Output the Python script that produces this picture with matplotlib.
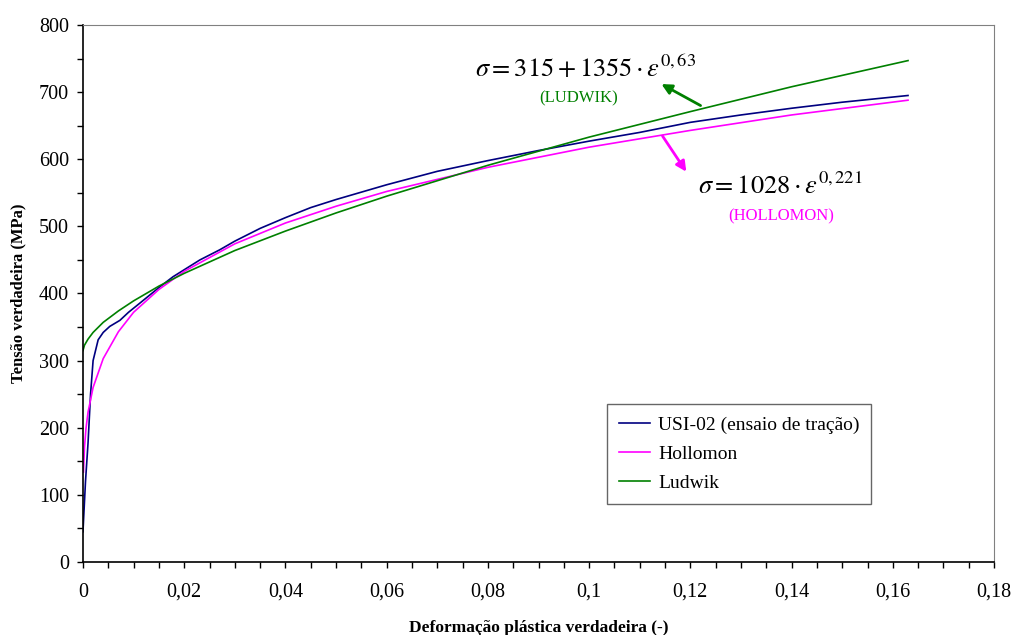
#!/usr/bin/env python3

import matplotlib
matplotlib.use('Agg')
import matplotlib.pyplot as plt
from matplotlib.ticker import MultipleLocator

plt.rcParams['font.family'] = ['Liberation Serif', 'DejaVu Serif']
plt.rcParams['mathtext.fontset'] = 'stix'

# USI-02 tensile test
eps_test = [0, 0.0005, 0.001, 0.0015, 0.002, 0.003, 0.004, 0.0053, 0.0073,
            0.009, 0.0113, 0.0152, 0.0178, 0.0231, 0.027, 0.03, 0.035, 0.04,
            0.045, 0.05, 0.06, 0.07, 0.08, 0.09, 0.10, 0.11, 0.12, 0.13,
            0.14, 0.15, 0.163]
sig_test = [45, 120, 177, 250, 300, 331, 342, 351, 360,
            372, 386, 410, 425, 450, 465, 478, 497, 513,
            528, 540, 562, 582, 598, 613, 627, 640, 655, 666,
            676, 685, 695]

# fitted curves
eps_hol = [0.0001, 0.0003, 0.0006, 0.001, 0.002, 0.004, 0.007, 0.01, 0.015,
           0.02, 0.03, 0.04, 0.05, 0.06, 0.08, 0.10, 0.12, 0.14, 0.163]
sig_hol = [134, 171, 199, 223, 260, 303, 343, 372, 406,
           433, 474, 505, 530, 552, 588, 618, 643, 666, 688]

eps_lud = [0, 0.0003, 0.001, 0.002, 0.004, 0.007, 0.01, 0.015, 0.02,
           0.03, 0.04, 0.05, 0.06, 0.08, 0.10, 0.12, 0.14, 0.163]
sig_lud = [315, 323, 332, 342, 357, 374, 389, 411, 430,
           464, 493, 520, 545, 591, 633, 671, 708, 747]

xticks = [0, 0.02, 0.04, 0.06, 0.08, 0.10, 0.12, 0.14, 0.16, 0.18]
xlabels = ['0', '0,02', '0,04', '0,06', '0,08', '0,1', '0,12', '0,14', '0,16', '0,18']

fig = plt.figure(figsize=(10.13, 6.35), dpi=100)
ax = fig.add_axes([0.0819, 0.115, 0.8994, 0.8456])

ax.plot(eps_test, sig_test, color='#000080', lw=1.2, label='USI-02 (ensaio de tração)')
ax.plot(eps_hol, sig_hol, color='#ff00ff', lw=1.2, label='Hollomon')
ax.plot(eps_lud, sig_lud, color='#008000', lw=1.2, label='Ludwik')

ax.set_xlim(0, 0.18)
ax.set_ylim(0, 800)
ax.set_xticks(xticks)
ax.set_xticklabels(xlabels)
ax.xaxis.set_minor_locator(MultipleLocator(0.005))
ax.yaxis.set_major_locator(MultipleLocator(100))
ax.yaxis.set_minor_locator(MultipleLocator(50))
ax.tick_params(which='both', direction='out', length=4, width=1)
ax.tick_params(which='major', labelsize=14.5)
ax.tick_params(axis='y', pad=6)
ax.tick_params(axis='x', pad=11)

for s in ['top', 'right']:
    ax.spines[s].set_color('#808080')
for s in ['left', 'bottom']:
    ax.spines[s].set_linewidth(1.2)

ax.set_xlabel('Deformação plástica verdadeira (-)', fontweight='bold', fontsize=12.5, labelpad=13)
ax.set_ylabel('Tensão verdadeira (MPa)', fontweight='bold', fontsize=12, labelpad=9)

# annotations
ax.text(0.0775, 735, r'$\sigma = 315 + 1355\cdot\varepsilon^{0,63}$', fontsize=19, ha='left', va='center')
ax.text(0.098, 690, '(LUDWIK)', color='#008000', fontsize=12, ha='center', va='center')
ax.annotate('', xy=(0.1138, 714), xytext=(0.1225, 678),
            arrowprops=dict(arrowstyle='-|>', color='#008000', lw=2, mutation_scale=15))

ax.text(0.1215, 560, r'$\sigma = 1028\cdot\varepsilon^{0,221}$', fontsize=19, ha='left', va='center')
ax.text(0.138, 515, '(HOLLOMON)', color='#ff00ff', fontsize=12, ha='center', va='center')
ax.annotate('', xy=(0.1195, 578), xytext=(0.1142, 638),
            arrowprops=dict(arrowstyle='-|>', color='#ff00ff', lw=2, mutation_scale=15))

leg = ax.legend(loc='lower left', bbox_to_anchor=(0.565, 0.09), fontsize=14,
                fancybox=False, edgecolor='#404040', handlelength=1.6,
                borderpad=0.6, labelspacing=0.6, handletextpad=0.4)
leg.get_frame().set_linewidth(1.0)
for line in leg.get_lines():
    line.set_linewidth(1.2)

fig.savefig('out.png', dpi=100)
